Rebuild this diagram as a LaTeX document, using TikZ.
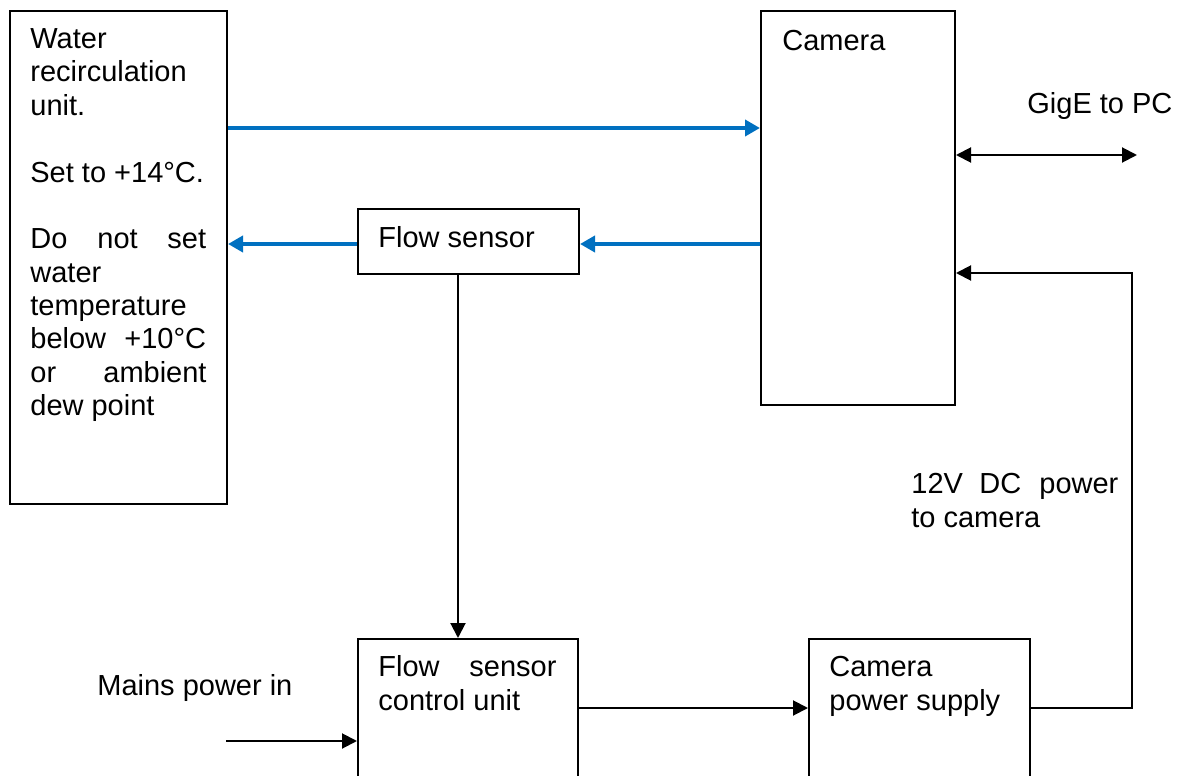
\documentclass[tikz,border=0pt]{standalone}
\usepackage{fontspec}
\setmainfont{Liberation Sans}
\usetikzlibrary{arrows.meta}
\definecolor{waterblue}{HTML}{0070C0}
\newcommand\diagfont{\fontsize{14.5pt}{16.7pt}\selectfont}
\begin{document}
\begin{tikzpicture}[x=0.5pt,y=-0.5pt,
  box/.style={draw=black, line width=1pt, inner sep=0pt, anchor=north west},
  txt/.style={inner sep=0pt, anchor=base west, font=\diagfont},
  conn/.style={line width=1pt, -{Triangle[length=7.5pt,width=7.5pt]}},
  biconn/.style={line width=1pt, {Triangle[length=7.5pt,width=7.5pt]}-{Triangle[length=7.5pt,width=7.5pt]}},
  flow/.style={draw=waterblue, line width=2.25pt, -{Triangle[length=7.5pt,width=8pt]}}]
\useasboundingbox (0,0) rectangle (1180,776);
\clip (0,0) rectangle (1180,776);

% boxes
\node[box, minimum width=108.5pt, minimum height=246.5pt] (water) at (9,10) {};
\node[box, minimum width=97pt, minimum height=197pt] (cam) at (760,10) {};
\node[box, minimum width=110.5pt, minimum height=32.5pt] (fs) at (357,208) {};
\node[box, minimum width=110pt, minimum height=90pt] (fcu) at (357,638) {};
\node[box, minimum width=110.5pt, minimum height=90pt] (cps) at (808,638) {};

% water unit text (justified lines set word by word)
\node[txt] (w1) at (30,48) {Water};
\node[txt] (w2) at (30,82) {recirculation};
\node[txt] (w3) at (30,115) {unit.};
\node[txt] (w4) at (30,182) {Set to +14°C.};
\node[txt] (w5a) at (30,248) {Do};
\node[txt] (w5b) at (97,248) {not};
\node[txt] (w5c) at (167,248) {set};
\node[txt] (w6) at (30,282) {water};
\node[txt] (w7) at (30,315) {temperature};
\node[txt] (w8a) at (30,348) {below};
\node[txt] (w8b) at (124,348) {+10°C};
\node[txt] (w9a) at (30,382) {or};
\node[txt] (w9b) at (103,382) {ambient};
\node[txt] (w10) at (30,415) {dew point};

% other texts
\node[txt] (camtxt) at (782,50) {Camera};
\node[txt] (fstxt) at (378,247) {Flow sensor};
\node[txt] (fcu1a) at (378,676) {Flow};
\node[txt] (fcu1b) at (469,676) {sensor};
\node[txt] (fcu2) at (378,710) {control unit};
\node[txt] (cps1) at (829,676) {Camera};
\node[txt] (cps2) at (829,710) {power supply};
\node[txt] (gige) at (1027,113) {GigE to PC};
\node[txt] (dc1a) at (911,493) {12V};
\node[txt] (dc1b) at (979,493) {DC};
\node[txt] (dc1c) at (1039,493) {power};
\node[txt] (dc2) at (911,527) {to camera};
\node[txt] (mains) at (97,695) {Mains power in};

% free ends and corners
\coordinate (gigeend) at (1137,155);
\coordinate (pwr) at (1132,273);
\coordinate (mainsin) at (226,741);

% water flow
\draw[flow] (water.east |- 0,128) -- (cam.west |- 0,128);
\draw[flow] (cam.west |- 0,244) -- (fs.east |- 0,244);
\draw[flow] (fs.west |- 0,244) -- (water.east |- 0,244);

% signals and power
\draw[conn] (fs.south -| 458,0) -- (fcu.north -| 458,0);
\draw[biconn] (cam.east |- gigeend) -- (gigeend);
\draw[conn] (cps.east |- 0,708) -| (pwr) -- (cam.east |- pwr);
\draw[conn] (fcu.east |- 0,708) -- (cps.west |- 0,708);
\draw[conn] (mainsin) -- (fcu.west |- mainsin);
\end{tikzpicture}
\end{document}
